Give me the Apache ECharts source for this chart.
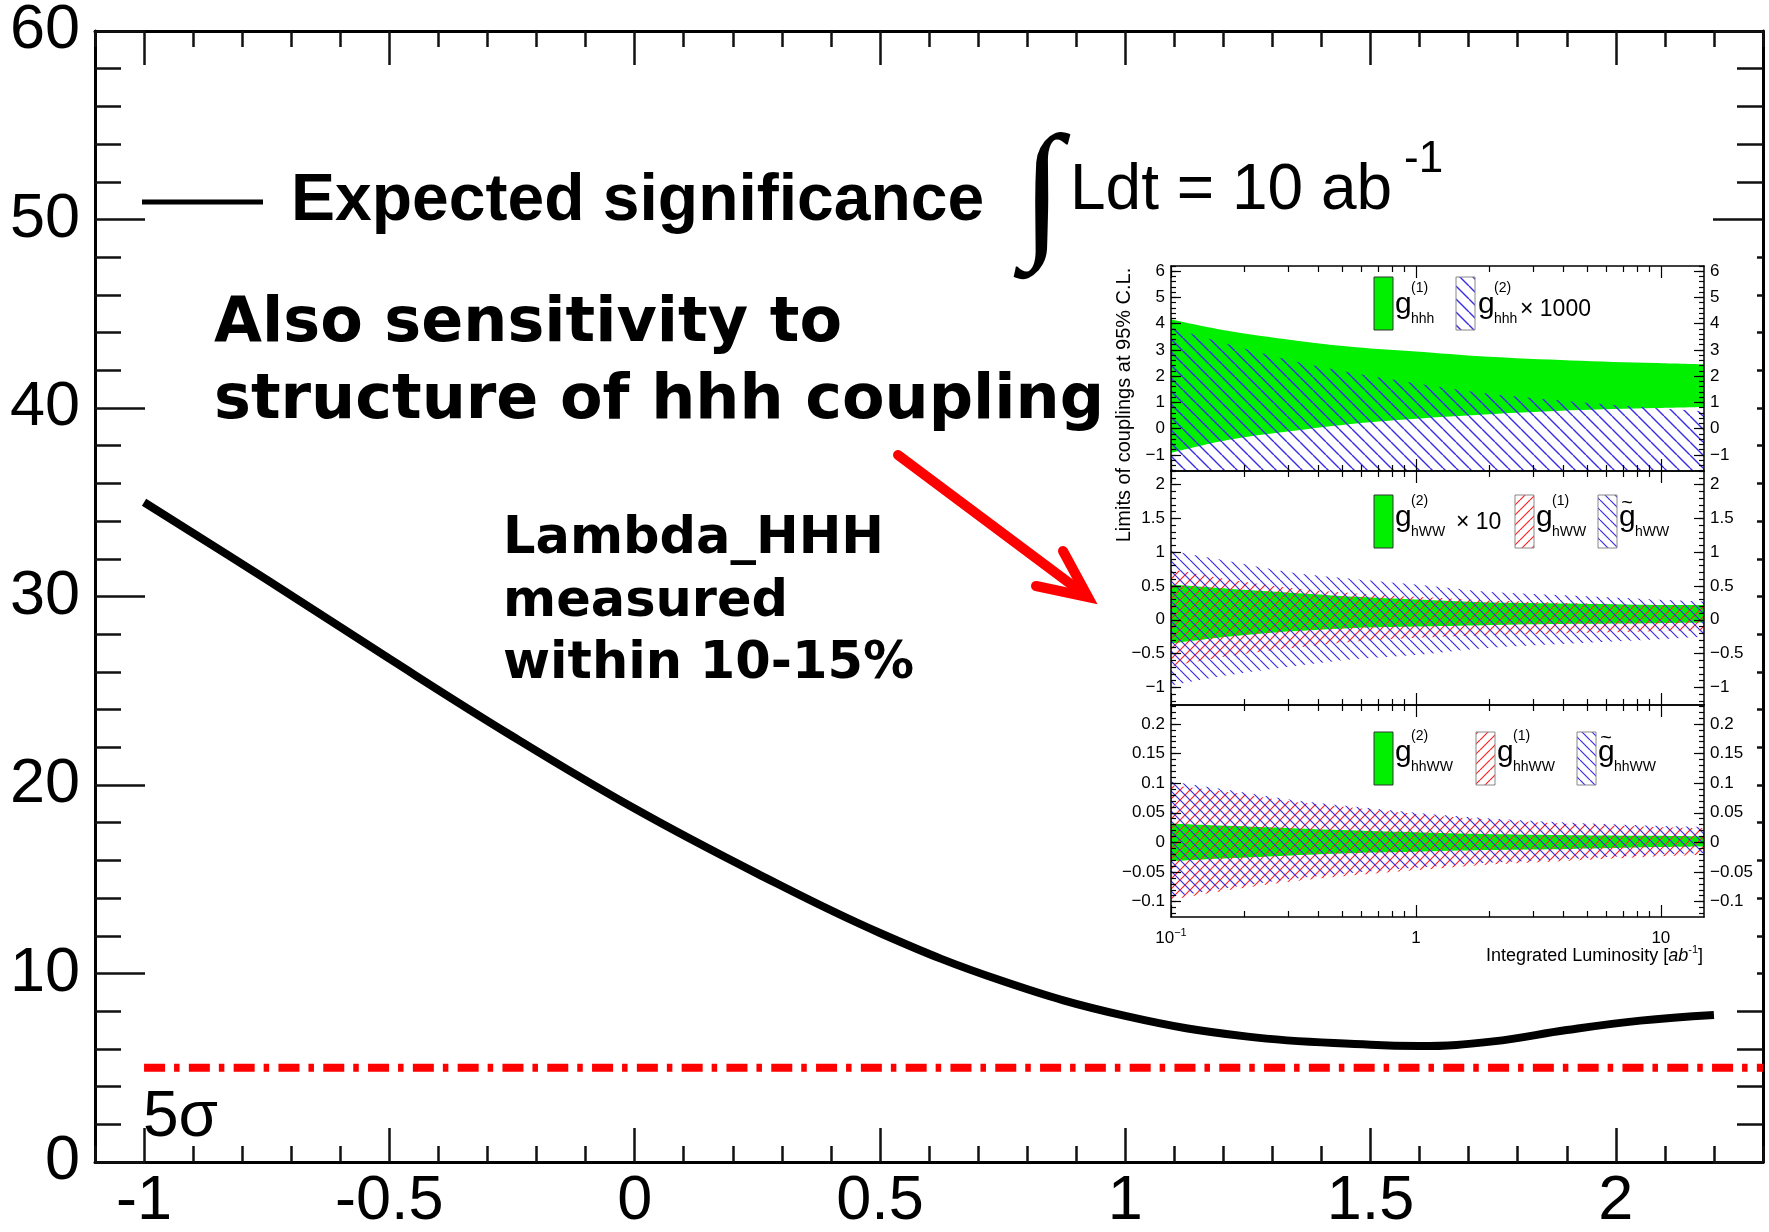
<!DOCTYPE html>
<html><head><meta charset="utf-8">
<script src="https://cdn.jsdelivr.net/npm/echarts@6/dist/echarts.min.js"></script>
<style>html,body{margin:0;padding:0;background:#fff}#c{width:1769px;height:1232px}</style>
</head><body><div id="c"></div>
<script>
// ---------------- main plot data ----------------
const lambdaX      = [-1, -0.75, -0.5, -0.25, 0, 0.25, 0.5, 0.75, 1.0, 1.25, 1.5, 1.6, 1.75, 1.9, 2.05, 2.2];
const significance = [35.0, 30.9, 26.7, 22.6, 18.75, 15.3, 12.15, 9.6, 7.75, 6.65, 6.22, 6.15, 6.4, 7.0, 7.5, 7.8];
const fiveSigmaX   = [-1, 2.3];
const fiveSigmaY   = [5, 5];
const mainXTicks   = [-1, -0.5, 0, 0.5, 1, 1.5, 2];

// ---------------- inset data (integrated luminosity, ab^-1) ----------------
const lumi = [0.1, 0.17, 0.31, 0.57, 1, 1.9, 4.3, 9.5, 15];
// panel 1
const hhh1Up = [4.16, 3.73, 3.38, 3.10, 2.94, 2.75, 2.60, 2.50, 2.45];
const hhh1Lo = [-0.92, -0.43, -0.09, 0.20, 0.38, 0.54, 0.70, 0.79, 0.83];
const hhh2Up = [3.85, 3.23, 2.60, 2.10, 1.73, 1.35, 1.04, 0.79, 0.66];
const hhh2Lo = [-1.61, -1.61, -1.61, -1.61, -1.61, -1.61, -1.61, -1.61, -1.61];
// panel 2
const hww2Up = [0.52, 0.46, 0.40, 0.34, 0.30, 0.26, 0.24, 0.22, 0.22];
const hww2Lo = [-0.35, -0.25, -0.17, -0.12, -0.10, -0.08, -0.06, -0.05, -0.04];
const hww1Up = [0.75, 0.60, 0.47, 0.39, 0.34, 0.29, 0.25, 0.22, 0.21];
const hww1Lo = [-0.69, -0.54, -0.42, -0.32, -0.27, -0.23, -0.20, -0.17, -0.16];
const hwwTUp = [1.02, 0.87, 0.70, 0.60, 0.52, 0.42, 0.36, 0.30, 0.27];
const hwwTLo = [-0.97, -0.82, -0.69, -0.58, -0.52, -0.42, -0.35, -0.29, -0.25];
// panel 3
const hhww2Up = [0.032, 0.028, 0.024, 0.020, 0.017, 0.014, 0.012, 0.011, 0.010];
const hhww2Lo = [-0.032, -0.027, -0.022, -0.018, -0.016, -0.013, -0.011, -0.008, -0.007];
const hhww1Up = [0.097, 0.085, 0.069, 0.058, 0.048, 0.039, 0.031, 0.026, 0.024];
const hhww1Lo = [-0.097, -0.081, -0.066, -0.055, -0.047, -0.038, -0.031, -0.024, -0.021];
const hhwwTUp = [0.103, 0.089, 0.072, 0.060, 0.050, 0.041, 0.033, 0.028, 0.026];
const hhwwTLo = [-0.092, -0.077, -0.062, -0.051, -0.043, -0.035, -0.028, -0.021, -0.018];

const lumiMajor = [0.1, 1, 10];
const lumiMinor = [0.2, 0.3, 0.4, 0.5, 0.6, 0.7, 0.8, 0.9, 2, 3, 4, 5, 6, 7, 8, 9];
const p1Ticks = [-1, 0, 1, 2, 3, 4, 5, 6];
const p2Ticks = [-1, -0.5, 0, 0.5, 1, 1.5, 2];
const p3Ticks = [-0.1, -0.05, 0, 0.05, 0.1, 0.15, 0.2];

// ---------------- helpers ----------------
function steps(a, b, s) { const r = []; for (let v = a; v <= b + 1e-9; v += s) r.push(+v.toFixed(4)); return r; }
const mainXMinor = steps(-1.1, 2.3, 0.1);

const F = '"Liberation Sans", Arial, Helvetica, sans-serif';
const FB = '"DejaVu Sans", sans-serif';

function hatch(color, s, dir, lw) {
  const c = document.createElement('canvas');
  c.width = s; c.height = s;
  const g = c.getContext('2d');
  g.strokeStyle = color; g.lineWidth = lw;
  g.beginPath();
  for (let k = -1; k <= 1; k++) {
    if (dir > 0) { g.moveTo(k * s, s); g.lineTo(k * s + s, 0); }
    else { g.moveTo(k * s, 0); g.lineTo(k * s + s, s); }
  }
  g.stroke();
  return { image: c, repeat: 'repeat' };
}
const GREEN = '#00f000';
const BLUE = '#3a2de6';
const RED = '#ff2424';
const blueH1 = hatch(BLUE, 13, -1, 1.4);
const blueH = hatch(BLUE, 10, -1, 1.2);
const redH = hatch(RED, 10, 1, 1.2);

const panels = [
  { top: 266, height: 205, min: -1.61, max: 6.2, major: p1Ticks, minor: steps(-1.6, 6.2, 0.2) },
  { top: 471, height: 234, min: -1.26, max: 2.2, major: p2Ticks, minor: steps(-1.2, 2.2, 0.1) },
  { top: 705, height: 212, min: -0.126, max: 0.232, major: p3Ticks, minor: steps(-0.12, 0.23, 0.01) }
];

const grids = [{ left: 95, right: 6, top: 31, bottom: 70, containLabel: false, outerBoundsMode: 'none' }];
panels.forEach(P => grids.push({ left: 1171, width: 533, top: P.top, height: P.height, containLabel: false, outerBoundsMode: 'none' }));

const xAxes = [], yAxes = [];
const mainX = (pos, ticks, len, labels, line) => ({
  gridIndex: 0, type: 'value', min: -1.1, max: 2.3, position: pos, z: 1,
  axisLine: { show: line, onZero: false, lineStyle: { color: '#000', width: 3 } },
  axisTick: { show: true, inside: true, length: len, customValues: ticks, lineStyle: { color: '#111', width: 2.5 } },
  axisLabel: labels ? { show: true, customValues: ticks, fontSize: 63, fontFamily: F, color: '#000', margin: 8, formatter: v => String(v) } : { show: false },
  splitLine: { show: false }
});
xAxes.push(mainX('bottom', mainXTicks, 34, true, true), mainX('bottom', mainXMinor, 16, false, false),
           mainX('top', mainXTicks, 34, false, true), mainX('top', mainXMinor, 16, false, false));
const mainY = (pos, labels) => ({
  gridIndex: 0, type: 'value', min: 0, max: 60, interval: 10, position: pos, z: 1,
  axisLine: { show: true, onZero: false, lineStyle: { color: '#000', width: 3 } },
  axisTick: { show: true, inside: true, length: 50, lineStyle: { color: '#111', width: 2.5 } },
  minorTick: { show: true, splitNumber: 5, length: 26, lineStyle: { color: '#111', width: 2.5 } },
  axisLabel: labels ? { show: true, fontSize: 63, fontFamily: F, color: '#000', margin: 15 } : { show: false },
  splitLine: { show: false }, minorSplitLine: { show: false }
});
yAxes.push(mainY('left', true), mainY('right', false));

panels.forEach((P, p) => {
  const g = p + 1;
  const xa = (pos, ticks, len, labels, line) => ({
    gridIndex: g, type: 'log', logBase: 10, min: 0.1, max: 15, position: pos, z: 20,
    axisLine: { show: line, onZero: false, lineStyle: { color: '#000', width: 1.5 } },
    axisTick: { show: true, inside: true, length: len, customValues: ticks, lineStyle: { color: '#000', width: 1.2 } },
    axisLabel: labels ? {
      show: true, customValues: ticks, fontSize: 17, fontFamily: F, color: '#000', margin: 10,
      formatter: v => Math.abs(v - 0.1) < 1e-6 ? '{b|10}{s|\u22121}' : '{b|' + Math.round(v) + '}',
      rich: { b: { fontSize: 17, fontFamily: F, color: '#000', lineHeight: 22 }, s: { fontSize: 11, fontFamily: F, color: '#000', verticalAlign: 'top' } }
    } : { show: false },
    splitLine: { show: false }, minorTick: { show: false }
  });
  xAxes.push(xa('bottom', lumiMajor, 12, p === 2, true), xa('bottom', lumiMinor, 6, false, false),
             xa('top', lumiMajor, 12, false, true), xa('top', lumiMinor, 6, false, false));
  const ya = (pos, ticks, len, labels, line) => ({
    gridIndex: g, type: 'value', min: P.min, max: P.max, position: pos, z: 20,
    axisLine: { show: line, onZero: false, lineStyle: { color: '#000', width: 1.5 } },
    axisTick: { show: true, inside: true, length: len, customValues: ticks, lineStyle: { color: '#000', width: 1.2 } },
    axisLabel: labels ? { show: true, customValues: ticks, fontSize: 17, fontFamily: F, color: '#000', margin: 6,
      formatter: v => String(v).replace('-', '\u2212') } : { show: false },
    splitLine: { show: false }
  });
  yAxes.push(ya('left', P.major, 10, true, true), ya('left', P.minor, 5, false, false),
             ya('right', P.major, 10, true, true), ya('right', P.minor, 5, false, false));
});

// band = lower edge series + stacked (upper - lower) series filled; columns are [value, luminosity]
let uid = 0;
function band(p, lo, up, fill) {
  const stack = 'band' + (uid++);
  const common = { type: 'line', xAxisIndex: 4 + 4 * p, yAxisIndex: 2 + 4 * p, stack, stackStrategy: 'all',
    encode: { x: 1, y: 0 }, showSymbol: false, symbol: 'none', smooth: 0.3, silent: true, z: 12, animation: false,
    lineStyle: { width: 0, opacity: 0 } };
  return [
    Object.assign({}, common, { data: lumi.map((x, i) => [lo[i], x]) }),
    Object.assign({}, common, { data: lumi.map((x, i) => [up[i] - lo[i], x]), areaStyle: { color: fill, opacity: 1 } })
  ];
}

const series = [
  { type: 'line', xAxisIndex: 0, yAxisIndex: 0, data: fiveSigmaX.map((x, i) => [x, fiveSigmaY[i]]),
    showSymbol: false, symbol: 'none', z: 2, lineStyle: { color: '#ff0000', width: 8, type: [21, 9, 5.5, 9.3], cap: 'butt' } },
  { type: 'line', xAxisIndex: 0, yAxisIndex: 0, data: lambdaX.map((x, i) => [x, significance[i]]),
    showSymbol: false, symbol: 'none', smooth: 0.4, z: 3, lineStyle: { color: '#000', width: 8 } },
  ...band(0, hhh1Lo, hhh1Up, GREEN),
  ...band(0, hhh2Lo, hhh2Up, blueH1),
  ...band(1, hww2Lo, hww2Up, GREEN),
  ...band(1, hww1Lo, hww1Up, redH),
  ...band(1, hwwTLo, hwwTUp, blueH),
  ...band(2, hhww2Lo, hhww2Up, GREEN),
  ...band(2, hhww1Lo, hhww1Up, redH),
  ...band(2, hhwwTLo, hhwwTUp, blueH)
];

// ---------------- annotations ----------------
function txt(x, y, text, size, opts) {
  return { type: 'text', x, y, z: 40, style: Object.assign({ text, fontSize: size, fontFamily: F, fill: '#000',
    align: 'left', verticalAlign: 'middle' }, opts || {}) };
}
function coupling(x, y, sup, sub, tilde) {
  const els = [txt(x, y, 'g', 30)];
  if (sup) els.push(txt(x + 16, y - 17, sup, 14));
  els.push(txt(x + 16, y + 14, sub, 14));
  if (tilde) els.push(txt(x + 8, y - 15, '~', 20, { align: 'center' }));
  return els;
}
function box(x, y, fill, border) {
  return { type: 'rect', z: 40, shape: { x, y, width: 19, height: 53 }, style: { fill, stroke: border, lineWidth: 1 } };
}

const graphics = [
  // white background of the pasted inset
  { type: 'rect', z: 10, shape: { x: 1100, y: 247, width: 657, height: 733 }, style: { fill: '#fff' } },
  // main legend
  { type: 'line', z: 40, shape: { x1: 142, y1: 202, x2: 263, y2: 202 }, style: { stroke: '#000', lineWidth: 5 } },
  txt(291, 202, 'Expected significance', 66, { fontWeight: 'bold' }),
  { type: 'text', z: 40, x: 1042, y: 200,
    style: { text: '\u222B', fontSize: 150, fontWeight: 'bold', fontFamily: '"Liberation Serif", "DejaVu Serif", serif', fill: '#000', align: 'center', verticalAlign: 'middle' } },
  txt(1070, 191, 'Ldt = 10 ab', 64),
  txt(1404, 160, '-1', 44),
  txt(143, 1118, '5\u03C3', 64),
  // bold annotations
  txt(214, 325, 'Also sensitivity to', 62, { fontFamily: FB, fontWeight: 'bold' }),
  txt(214, 402, 'structure of hhh coupling', 62, { fontFamily: FB, fontWeight: 'bold' }),
  txt(503, 540, 'Lambda_HHH', 51, { fontFamily: FB, fontWeight: 'bold' }),
  txt(503, 603, 'measured', 51, { fontFamily: FB, fontWeight: 'bold' }),
  txt(503, 665, 'within 10-15%', 51, { fontFamily: FB, fontWeight: 'bold' }),
  // red arrow
  { type: 'line', z: 45, shape: { x1: 898, y1: 455, x2: 1080, y2: 591 }, style: { stroke: '#ff0000', lineWidth: 10, lineCap: 'round' } },
  { type: 'polyline', z: 45, shape: { points: [[1063, 551], [1088, 597], [1036, 586]] },
    style: { stroke: '#ff0000', lineWidth: 10, lineCap: 'round', lineJoin: 'miter', fill: null } },
  // inset y title
  { type: 'text', z: 40, x: 1124, y: 405, rotation: Math.PI / 2,
    style: { text: 'Limits of couplings at 95% C.L.', fontSize: 20, fontFamily: F, fill: '#000', align: 'center', verticalAlign: 'middle' } },
  // inset x title
  { type: 'text', z: 40, x: 1703, y: 956,
    style: { text: '{n|Integrated Luminosity [}{i|ab}{s|-1}{n|]}', align: 'right', verticalAlign: 'middle',
      rich: { n: { fontSize: 18, fontFamily: F, fill: '#000', lineHeight: 24 }, i: { fontSize: 18, fontFamily: F, fontStyle: 'italic', fill: '#000', lineHeight: 24 },
              s: { fontSize: 11, fontFamily: F, fill: '#000', verticalAlign: 'top' } } } },
  // legends panel 1
  box(1374, 277, GREEN, '#333'), ...coupling(1395, 305, '(1)', 'hhh'),
  box(1456, 277, blueH1, '#888'), ...coupling(1478, 305, '(2)', 'hhh'), txt(1520, 310, '\u00D7 1000', 23),
  // legends panel 2
  box(1374, 495, GREEN, '#333'), ...coupling(1395, 518, '(2)', 'hWW'), txt(1456, 523, '\u00D7 10', 23),
  box(1515, 495, redH, '#888'), ...coupling(1536, 518, '(1)', 'hWW'),
  box(1598, 495, blueH, '#888'), ...coupling(1619, 518, null, 'hWW', true),
  // legends panel 3
  box(1374, 732, GREEN, '#333'), ...coupling(1395, 753, '(2)', 'hhWW'),
  box(1476, 732, redH, '#888'), ...coupling(1497, 753, '(1)', 'hhWW'),
  box(1577, 732, blueH, '#888'), ...coupling(1598, 753, null, 'hhWW', true)
];

const chart = echarts.init(document.getElementById('c'), null, { renderer: 'canvas', width: 1769, height: 1232 });
chart.setOption({
  animation: false,
  backgroundColor: '#fff',
  grid: grids,
  xAxis: xAxes,
  yAxis: yAxes,
  series,
  graphic: { elements: graphics }
});
</script></body></html>
